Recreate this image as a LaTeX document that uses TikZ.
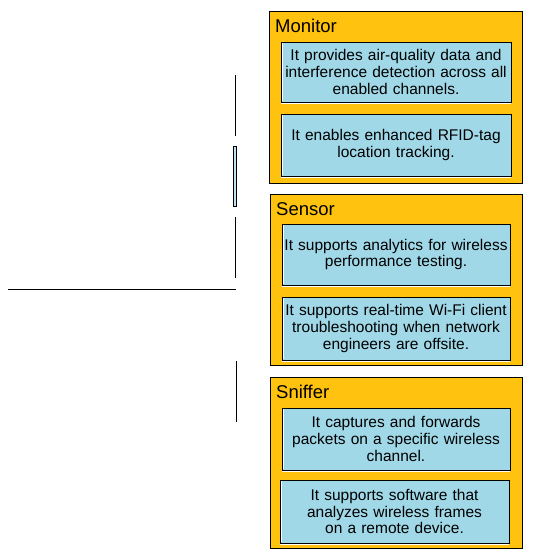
\documentclass[tikz,border=0pt]{standalone}
\usepackage{fontspec}
\setmainfont{Liberation Sans}
\definecolor{panelyellow}{RGB}{255,194,14}
\definecolor{cardblue}{RGB}{160,216,232}
\begin{document}
\begin{tikzpicture}[x=1pt,y=-1pt,
  panel/.style={draw=black, line width=0.9pt, fill=panelyellow, inner sep=0pt, outer sep=0pt, anchor=north west},
  card/.style={draw=black, line width=0.8pt, fill=cardblue, inner sep=0pt, outer sep=0pt, anchor=north west,
    text width=226pt, align=center, font=\fontsize{15.5}{16.7}\selectfont},
  title/.style={anchor=base west, inner sep=0pt, font=\fontsize{18.5}{20}\selectfont},
  edge/.style={white, line width=1pt},
  stub/.style={line width=0.9pt}]
\useasboundingbox (0,0) rectangle (555,557);

% left fragments
\coordinate (a1) at (235.7,75);  \coordinate (a2) at (235.7,136);
\coordinate (b1) at (235.7,217); \coordinate (b2) at (235.7,278);
\coordinate (c1) at (8,289);     \coordinate (c2) at (236,289);
\coordinate (d1) at (236.3,361); \coordinate (d2) at (236.3,422);
\draw[stub] (a1) -- (a2);
\draw[stub] (b1) -- (b2);
\draw[stub] (c1) -- (c2);
\draw[stub] (d1) -- (d2);
\node[draw=black, line width=0.8pt, fill=cardblue!70, minimum width=3pt, minimum height=60pt,
  inner sep=0pt, outer sep=0pt, anchor=north west] (tab) at (233,146) {};

% panels
\node[panel, minimum width=253pt, minimum height=172pt] (mon) at (269,11) {};
\node[panel, minimum width=252pt, minimum height=171pt] (sen) at (270,194) {};
\node[panel, minimum width=252pt, minimum height=171pt] (sni) at (270,377) {};

\node[title] (monT) at (275,32) {Monitor};
\node[title] (senT) at (276,215) {Sensor};
\node[title] (sniT) at (276,398) {Sniffer};

% cards
\node[card, minimum width=230pt, minimum height=60pt] (m1) at (281,42)
  {It provides air-quality data and\\interference detection across all\\enabled channels.};
\node[card, minimum width=230pt, minimum height=62pt] (m2) at (281,114)
  {It enables enhanced RFID-tag\\location tracking.};
\node[card, minimum width=228pt, minimum height=61pt] (s1) at (282,224)
  {It supports analytics for wireless\\performance testing.};
\node[card, minimum width=228pt, minimum height=63pt] (s2) at (282,297)
  {It supports real-time Wi-Fi client\\troubleshooting when network\\engineers are offsite.};
\node[card, minimum width=228pt, minimum height=62pt] (n1) at (282,408)
  {It captures and forwards\\packets on a specific wireless\\channel.};
\node[card, minimum width=229pt, minimum height=63pt] (n2) at (280,480)
  {It supports software that\\analyzes wireless frames\\on a remote device.};

\foreach \c in {m1,m2,s1,s2,n1,n2}{
  \draw[edge] ([xshift=1.6pt,yshift=-0.6pt]\c.north west) -- ([xshift=1.6pt,yshift=0.6pt]\c.south west);
  \draw[edge] ([yshift=-1.6pt]\c.south west) -- ([yshift=-1.6pt]\c.south east);
}
\end{tikzpicture}
\end{document}
